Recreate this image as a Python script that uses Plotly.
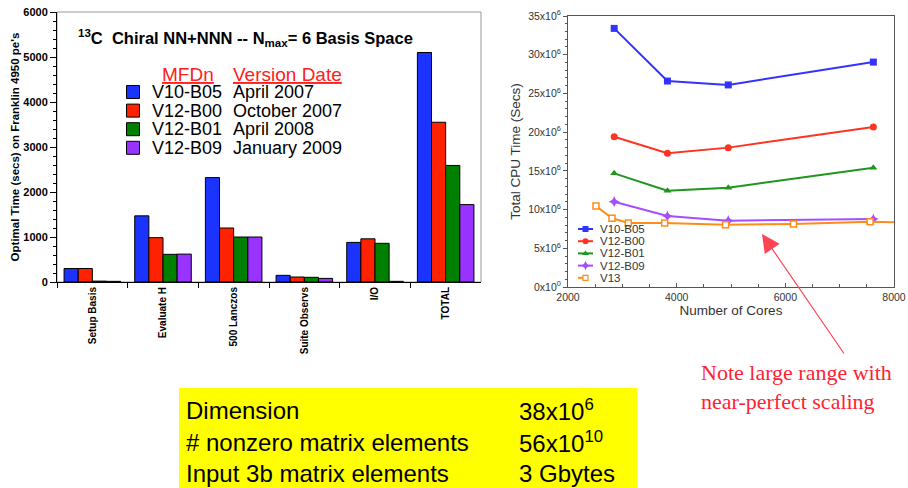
import plotly.graph_objects as go

W, H = 908, 488

# ---------------- Left chart data (bar chart) ----------------
stages = ["Setup Basis", "Evaluate H", "500 Lanczos", "Suite Observs", "I/O", "TOTAL"]
versions = ["V10-B05", "V12-B00", "V12-B01", "V12-B09"]
version_dates = ["April 2007", "October 2007", "April 2008", "January 2009"]
v10_b05_secs = [300, 1470, 2320, 148, 880, 5100]
v12_b00_secs = [300, 985, 1200, 111, 960, 3550]
v12_b01_secs = [20, 615, 1000, 104, 860, 2590]
v12_b09_secs = [15, 620, 1000, 80, 15, 1720]
bar_values = [v10_b05_secs, v12_b00_secs, v12_b01_secs, v12_b09_secs]
bar_colors = ["#1a33ff", "#ff2200", "#008000", "#9933ff"]
left_yticks = [0, 1000, 2000, 3000, 4000, 5000, 6000]

# ---------------- Right chart data (CPU time vs cores) ----------------
line_names = ["V10-B05", "V12-B00", "V12-B01", "V12-B09", "V13"]
cores_v12 = [2850, 3830, 4950, 7620]
cpu_v10_b05 = [33.4e6, 26.6e6, 26.1e6, 29.05e6]
cpu_v12_b00 = [19.4e6, 17.27e6, 18.0e6, 20.66e6]
cpu_v12_b01 = [14.68e6, 12.44e6, 12.83e6, 15.41e6]
cpu_v12_b09 = [11.02e6, 9.17e6, 8.57e6, 8.78e6]
cores_v13 = [2515, 2810, 3110, 3780, 4900, 6150, 7560, 8400]
cpu_v13 = [10.46e6, 8.87e6, 8.27e6, 8.27e6, 8.05e6, 8.14e6, 8.44e6, 8.27e6]
line_x = [cores_v12, cores_v12, cores_v12, cores_v12, cores_v13]
line_y = [cpu_v10_b05, cpu_v12_b00, cpu_v12_b01, cpu_v12_b09, cpu_v13]
line_colors = ["#3333ff", "#ff3322", "#1e961e", "#a64dff", "#ff8c1a"]
line_symbols = ["square", "circle", "triangle-up", "star-diamond", "square"]
right_yticks = [0, 5e6, 10e6, 15e6, 20e6, 25e6, 30e6, 35e6]
right_yticktext = ["0x10<sup>0</sup>"] + [f"{int(v/1e6)}x10<sup>6</sup>" for v in right_yticks[1:]]

# ---------------- Info box text ----------------
info_labels = ["Dimension", "# nonzero matrix elements", "Input 3b matrix elements"]
info_values = ["38x10<sup>6</sup>", "56x10<sup>10</sup>", "3 Gbytes"]


def px(x):
    return x / W


def py(y):
    return 1 - y / H


fig = go.Figure()

SANS = "Liberation Sans"

# Bars
for name, vals, col in zip(versions, bar_values, bar_colors):
    fig.add_trace(go.Bar(
        x=stages, y=vals, name=name, marker=dict(color=col, line=dict(color="black", width=1)),
        xaxis="x", yaxis="y", showlegend=False))

# Lines
for i, (name, xs, ys, col, sym) in enumerate(zip(line_names, line_x, line_y, line_colors, line_symbols)):
    if name == "V13":
        mk = dict(symbol=sym, size=6, color="white", line=dict(color=col, width=1.5))
    else:
        mk = dict(symbol=sym, size=7 if sym != "star-diamond" else 8, color=col, line=dict(color=col, width=0))
    fig.add_trace(go.Scatter(
        x=xs, y=ys, name=name, mode="lines+markers", line=dict(color=col, width=2),
        marker=mk, xaxis="x2", yaxis="y2", showlegend=False, cliponaxis=True))

# Legend glyphs on an invisible pixel-space overlay axis
left_leg_y0, left_leg_dy = 92, 18.6
for i, col in enumerate(bar_colors):
    yy = left_leg_y0 + i * left_leg_dy
    fig.add_trace(go.Scatter(
        x=[133], y=[yy], mode="markers", xaxis="x3", yaxis="y3", showlegend=False, hoverinfo="skip",
        marker=dict(symbol="square", size=13, color=col, line=dict(color="black", width=1))))

right_leg_y0, right_leg_dy = 229, 12.2
for i, (col, sym) in enumerate(zip(line_colors, line_symbols)):
    yy = right_leg_y0 + i * right_leg_dy
    if line_names[i] == "V13":
        mk = dict(symbol=sym, size=5, color="white", line=dict(color=col, width=1.2))
        dash = "dash"
    else:
        mk = dict(symbol=sym, size=6 if sym != "star-diamond" else 7, color=col, line=dict(width=0))
        dash = "solid"
    fig.add_trace(go.Scatter(
        x=[578, 585.5, 593], y=[yy, yy, yy], mode="lines", xaxis="x3", yaxis="y3",
        showlegend=False, hoverinfo="skip", line=dict(color=col, width=2, dash=dash)))
    fig.add_trace(go.Scatter(
        x=[585.5], y=[yy], mode="markers", xaxis="x3", yaxis="y3",
        showlegend=False, hoverinfo="skip", marker=mk))

annotations = []

# Left chart title
annotations.append(dict(
    text="<b><sup>13</sup>C  Chiral NN+NNN -- N<sub>max</sub>= 6 Basis Space</b>",
    x=px(245), y=py(38), xref="paper", yref="paper", showarrow=False,
    xanchor="center", yanchor="middle", font=dict(family=SANS, size=16.5, color="black")))

# Left legend header
annotations.append(dict(text="<u>MFDn</u>", x=px(160), y=py(74), xref="paper", yref="paper",
                        showarrow=False, xanchor="left", yanchor="middle",
                        font=dict(family=SANS, size=19, color="#ff2020")))
annotations.append(dict(text="<u>Version Date</u>", x=px(231), y=py(74), xref="paper", yref="paper",
                        showarrow=False, xanchor="left", yanchor="middle",
                        font=dict(family=SANS, size=19, color="#ff2020")))
for i, (v, d) in enumerate(zip(versions, version_dates)):
    yy = left_leg_y0 + i * left_leg_dy
    annotations.append(dict(text=v, x=px(150), y=py(yy), xref="paper", yref="paper", showarrow=False,
                            xanchor="left", yanchor="middle", font=dict(family=SANS, size=18, color="black")))
    annotations.append(dict(text=d, x=px(231), y=py(yy), xref="paper", yref="paper", showarrow=False,
                            xanchor="left", yanchor="middle", font=dict(family=SANS, size=18, color="black")))

# Right legend text
for i, n in enumerate(line_names):
    yy = right_leg_y0 + i * right_leg_dy
    annotations.append(dict(text=n, x=px(598), y=py(yy), xref="paper", yref="paper", showarrow=False,
                            xanchor="left", yanchor="middle", font=dict(family=SANS, size=11.5, color="#333")))

# Red note with arrow
annotations.append(dict(text="", x=px(762), y=py(234), xref="paper", yref="paper", showarrow=True,
                        ax=83, ay=121, axref="pixel", ayref="pixel", arrowhead=2, arrowsize=3,
                        arrowwidth=1.2, arrowcolor="#ff4455", standoff=0))
annotations.append(dict(text="Note large range with<br>near-perfect scaling", x=px(699), y=py(387),
                        xref="paper", yref="paper", showarrow=False, xanchor="left", yanchor="middle",
                        align="left", font=dict(family="Liberation Serif", size=22, color="#ff2233")))

# Info box text
info_rows_y = [410, 442, 473]
for lab, val, yy in zip(info_labels, info_values, info_rows_y):
    annotations.append(dict(text=lab, x=px(184), y=py(yy), xref="paper", yref="paper", showarrow=False,
                            xanchor="left", yanchor="middle", font=dict(family=SANS, size=24, color="black")))
    annotations.append(dict(text=val, x=px(517), y=py(yy), xref="paper", yref="paper", showarrow=False,
                            xanchor="left", yanchor="middle", font=dict(family=SANS, size=24, color="black")))

shapes = [
    # left chart frame (gray top/right)
    dict(type="rect", xref="x domain", yref="y domain", x0=0, x1=1, y0=0, y1=1,
         line=dict(color="#999999", width=1), layer="below"),
    # yellow info box
    dict(type="rect", xref="paper", yref="paper", x0=px(179), x1=px(637), y0=py(488), y1=py(388),
         fillcolor="#ffff00", line=dict(width=0), layer="below"),
]

fig.update_layout(
    template="none",
    width=W, height=H, margin=dict(l=0, r=0, t=0, b=0, pad=0, autoexpand=False),
    paper_bgcolor="white", plot_bgcolor="rgba(0,0,0,0)",
    barmode="group", bargap=0.2, bargroupgap=0,
    font=dict(family=SANS, color="black"),
    annotations=annotations, shapes=shapes,
    xaxis=dict(domain=[px(57), px(481)], anchor="y", type="category", tickson="boundaries",
               automargin=False,
               ticks="outside", ticklen=5, tickcolor="black", showline=True, linecolor="black",
               linewidth=1, tickangle=-90, showgrid=False, zeroline=False,
               tickfont=dict(family=SANS, size=10, weight="bold", color="black")),
    yaxis=dict(domain=[py(282), py(12)], anchor="x", range=[0, 6000], tickvals=left_yticks,
               automargin=False,
               ticks="outside", ticklen=6, tickcolor="black", showline=True, linecolor="black",
               linewidth=1, showgrid=False, zeroline=False,
               minor=dict(dtick=200, ticks="outside", ticklen=3, tickcolor="black", showgrid=False),
               tickfont=dict(family=SANS, size=11, weight="bold", color="black"),
               title=dict(text="Optimal Time (secs) on Franklin 4950 pe's",
                          font=dict(family=SANS, size=11.5, weight="bold", color="black"), standoff=1)),
    xaxis2=dict(domain=[px(568), px(894)], anchor="y2", range=[2000, 8000], automargin=False,
                tickvals=[2000, 4000, 6000, 8000], ticks="inside", ticklen=4, tickcolor="#555",
                minor=dict(dtick=500, ticks="inside", ticklen=3, tickcolor="#555", showgrid=False),
                showline=True, mirror=True, linecolor="#555", linewidth=1, showgrid=False, zeroline=False,
                tickfont=dict(family=SANS, size=10.5, color="#333"),
                title=dict(text="Number of Cores", font=dict(family=SANS, size=13.5, color="#333"), standoff=2)),
    yaxis2=dict(domain=[py(287), py(16)], anchor="x2", range=[0, 35e6], automargin=False,
                tickvals=right_yticks, ticktext=right_yticktext, ticks="outside", ticklen=4, tickcolor="#555",
                minor=dict(dtick=1e6, ticks="outside", ticklen=2, tickcolor="#555", showgrid=False),
                showline=True, mirror=True, linecolor="#555", linewidth=1, showgrid=False, zeroline=False,
                tickfont=dict(family=SANS, size=10.5, color="#333"),
                title=dict(text="Total CPU Time (Secs)", font=dict(family=SANS, size=13.5, color="#333"), standoff=4)),
    xaxis3=dict(domain=[0, 1], anchor="y3", range=[0, W], visible=False, fixedrange=True, automargin=False),
    yaxis3=dict(domain=[0, 1], anchor="x3", range=[H, 0], visible=False, fixedrange=True, automargin=False),
)

fig.write_html("out.html", config={"displayModeBar": False},
               post_script="document.body.style.margin='0';")
